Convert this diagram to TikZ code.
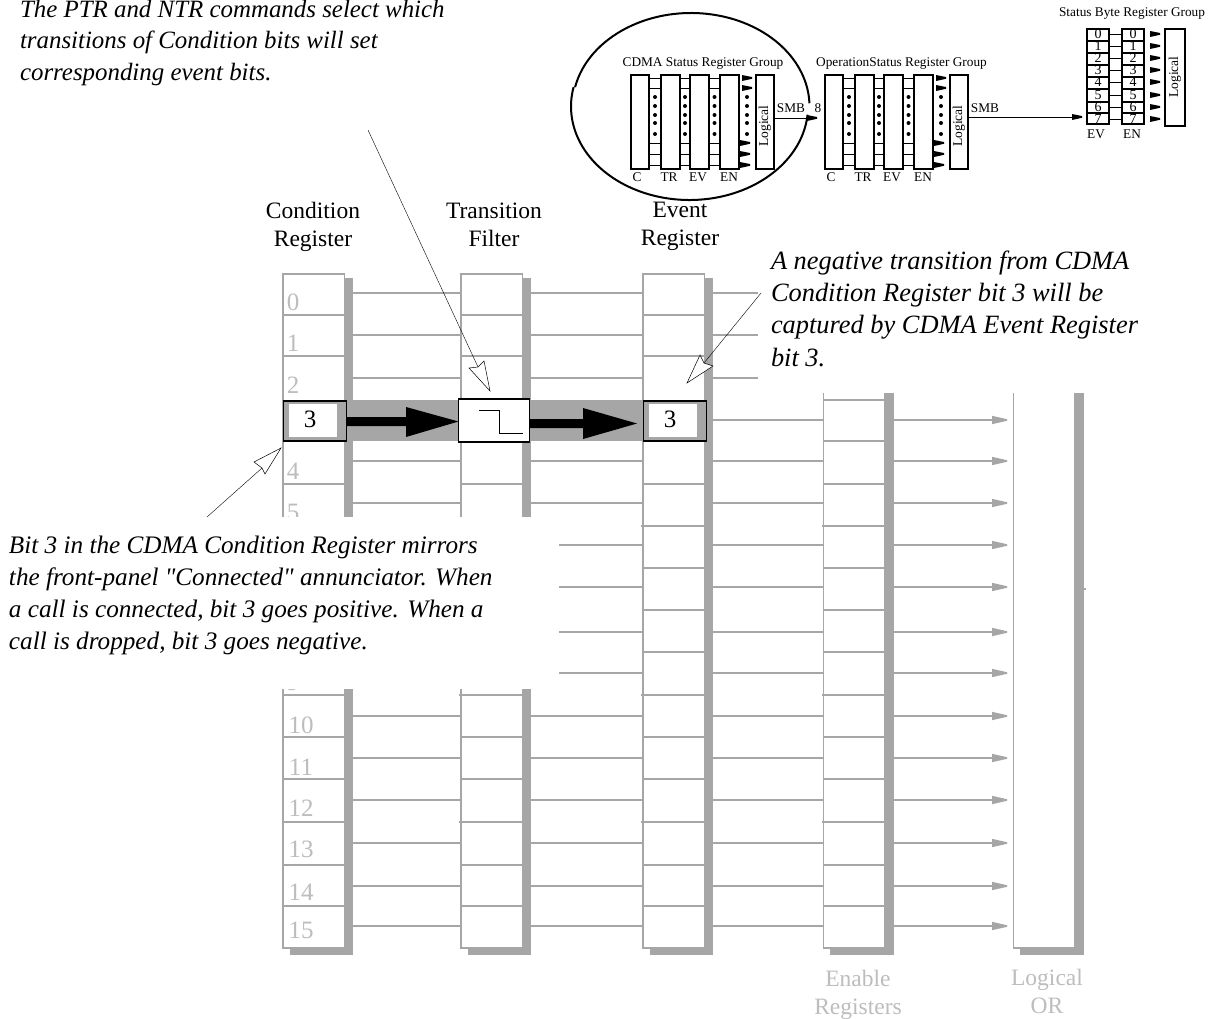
\documentclass[tikz,border=0pt]{standalone}
\usepackage{fontspec}
\setmainfont{Liberation Serif}
\newfontfamily\plainserif{Liberation Serif}
\usetikzlibrary{calc}
\definecolor{gshadow}{HTML}{A6A6A6}
\definecolor{gline}{HTML}{A6A6A6}
\definecolor{gtext}{HTML}{BDBDBD}
\tikzset{
  regbody/.style={draw=gline,line width=1.5pt,fill=white,inner sep=0pt,outer sep=0pt,rectangle},
  rowline/.style={draw=gline,line width=1.5pt},
  graytip/.style={fill=gline,draw=none},
  hollow/.style={draw=black,fill=white,line width=0.5pt,line join=miter},
  leader/.style={draw=black,line width=0.4pt},
  note/.style={font=\fontsize{24.9}{31.7}\plainserif\itshape,align=left,anchor=north west,inner sep=0pt,outer sep=0pt},
  head/.style={font=\fontsize{23.5}{28}\selectfont,align=center,inner sep=0pt,outer sep=0pt},
  bitnum/.style={font=\fontsize{25}{25}\selectfont,text=gtext,inner sep=0pt,outer sep=0pt},
  bitthree/.style={font=\fontsize{25}{25}\selectfont,text=black,inner sep=0pt,outer sep=0pt},
  mini/.style={draw=black,line width=2.6pt,fill=white,inner sep=0pt,outer sep=0pt,rectangle},
  minitxt/.style={font=\fontsize{13.3}{13.3}\selectfont,inner sep=0pt,outer sep=0pt},
  minidig/.style={font=\fontsize{14}{14}\selectfont,inner sep=0pt,outer sep=0pt},
  minirot/.style={font=\fontsize{13.5}{13.5}\selectfont,inner sep=0pt,outer sep=0pt,rotate=90},
  miniline/.style={draw=black,line width=0.7pt},
}
% name, x1, y1, x2, y2 : a register column with its drop shadow
\newcommand{\regcol}[5]{%
  \fill[gshadow] ({#4-1},{#3+4}) rectangle ({#4+8.5},{#5+6.5});
  \fill[gshadow] ({#2+7},{#5-1}) rectangle ({#4+5},{#5+7});
  \pgfmathsetmacro{\rw}{#4-#2}\pgfmathsetmacro{\rh}{#5-#3}
  \node[regbody,minimum width=\rw pt,minimum height=\rh pt] (#1) at ({(#2+#4)/2},{(#3+#5)/2}) {};
}
% name, x1, y1, x2, y2 : a small black-outlined box
\newcommand{\minibox}[5]{%
  \pgfmathsetmacro{\rw}{#4-#2}\pgfmathsetmacro{\rh}{#5-#3}
  \node[mini,minimum width=\rw pt,minimum height=\rh pt] (#1) at ({(#2+#4)/2},{(#3+#5)/2}) {};
}
% solid pointed head: tip x, y
\newcommand{\minitip}[2]{\fill[black] ({#1-10},{#2-3}) -- (#1,{#2-1}) -- (#1,{#2+0.8}) -- ({#1-10},{#2+3}) -- cycle;}
\begin{document}
\begin{tikzpicture}[x=1pt,y=-1pt]
\useasboundingbox (0,0) rectangle (1209,1018);
\fill[white] (0,0) rectangle (1209,1018);

% row coordinates
\foreach \i/\y in {0/293,1/335,2/378,3/420,4/461,5/503,6/545,7/587,8/632,9/673,10/716,11/758,12/800,13/843,14/886,15/926}
  \coordinate (row\i) at (0,\y);

% columns
\regcol{cond}{283}{274}{344.5}{948}
\regcol{filt}{461}{274}{522.5}{948}
\regcol{evnt}{643}{274}{704.5}{948}

% open-topped columns
\fill[gshadow] (884,393) rectangle (893.5,954.5);
\fill[gshadow] (830,947) rectangle (889,955);
\fill[gshadow] (1074,393) rectangle (1083.5,954.5);
\fill[gshadow] (1020,947) rectangle (1079,955);
\fill[gshadow] (1083,588) rectangle (1085.5,590);
\coordinate (enTL) at (823.5,393);
\coordinate (enBL) at (823.5,948);
\coordinate (enBR) at (885,948);
\coordinate (orTL) at (1013.5,393);
\coordinate (orBL) at (1013.5,948);
\coordinate (orBR) at (1075,948);
\draw[rowline] (enTL) -- (enBL) -- (enBR);
\draw[draw=gline,line width=1.1pt] (orTL) -- (orBL) -- (orBR);

% cell separators
\foreach \y in {315,356,484,526,568,610,652,695,737,779,822,865,906}{
  \draw[rowline] (283,\y) -- (344,\y);
  \draw[rowline] (461,\y) -- (521.5,\y);
  \draw[rowline] (643,\y) -- (703.5,\y);
}
\foreach \y in {400,441,484,526,568,610,652,695,737,779,822,865,906}
  \draw[rowline] (823,\y) -- (884,\y);
\foreach \y in {526,695,822}{
  \draw[rowline] (459,\y) -- (462,\y);
  \draw[rowline] (641,\y) -- (644,\y);
  \draw[rowline] (822,\y) -- (824,\y);
}

% row connectors
\foreach \i in {0,1,2,4,5,6,7,8,9,10,11,12,13,14,15}{
  \draw[rowline] (353,0 |- row\i) -- (filt.west |- row\i);
  \draw[rowline] (529,0 |- row\i) -- (evnt.west |- row\i);
}
\foreach \i in {3,4,5,6,7,8,9,10,11,12,13,14,15}{
  \draw[rowline] (713,0 |- row\i) -- (enTL |- row\i);
  \draw[rowline] (893,0 |- row\i) -- (995,0 |- row\i);
  \fill[graytip] (992,0 |- row\i) ++(0,-4.2) -- ++(15,3.4) -- ++(0,1.6) -- ++(-15,3.4) -- cycle;
}
\foreach \i in {0,1,2}
  \draw[rowline] (713,0 |- row\i) -- (758,0 |- row\i);

% bit numbers
\foreach \n/\y in {0/302,1/343,2/385,4/471,5/512,9/682}
  \node[bitnum] (bit\n) at (293,\y) {\n};
\foreach \n/\y in {10/725,11/767,12/808,13/849,14/892,15/930}
  \node[bitnum] (bit\n) at (301,\y) {\n};

% masks left by the callout texts
\fill[white] (0,517) rectangle (559,689);

% highlighted row 3
\fill[gshadow] (344,400) rectangle (643,441);
\fill[gshadow] (283,401) rectangle (346,441);
\fill[gshadow] (643,401) rectangle (713,441);
\fill[white] (289,404) rectangle (337,437);
\fill[white] (649,404) rectangle (697,437);
\node[draw=black,line width=1.4pt,fill=none,inner sep=0,outer sep=0,minimum width=63pt,minimum height=40pt] (cbox) at (315,421) {};
\node[draw=black,line width=1.4pt,fill=white,inner sep=0,outer sep=0,minimum width=71pt,minimum height=43pt] (tbox) at (494,420.5) {};
\node[draw=black,line width=1.4pt,fill=none,inner sep=0,outer sep=0,minimum width=63pt,minimum height=40pt] (ebox) at (675,421) {};
\node[bitthree] (cthree) at (310,419.5) {3};
\node[bitthree] (ethree) at (670,419.5) {3};
\draw[line width=0.9pt] (479,410) -- (499,410) -- (499,433.5) -- (523,433.5);
% heavy arrows
\fill[black] (cbox.east |- 0,417) -- (406,417) -- (406,407) -- (tbox.west |- 0,421.5) -- (406,437) -- (406,426) -- (cbox.east |- 0,426) -- cycle;
\fill[black] (tbox.east |- 0,419) -- (583,419) -- (583,408) -- (637,423.5) -- (583,439) -- (583,428) -- (tbox.east |- 0,428) -- cycle;

% callout leaders
\coordinate (la1) at (368,130);
\coordinate (ln1) at (478,367);
\coordinate (la2) at (761,293);
\coordinate (ln2) at (704,363);
\coordinate (la3) at (207,517);
\coordinate (ln3) at (262,468);
\draw[leader] (la1) -- (ln1);
\draw[hollow] (ln1) -- (469,368) -- (490,391) -- (484,361) -- cycle;
\draw[leader] (la2) -- (ln2);
\draw[hollow] (ln2) -- (700,355) -- (687,383) -- (713,366) -- cycle;
\draw[leader] (la3) -- (ln3);
\draw[hollow] (ln3) -- (254,462) -- (281,448) -- (265,474) -- cycle;

% column headings
\node[head] (hcond) at (313,227) {Condition\\Register};
\node[head] (hfilt) at (494,225) {Transition\\Filter};
\node[head] (hevnt) at (680,226) {Event\\Register};
\node[head] (hen) at (858,995) {\textcolor{gtext}{Enable}\\\textcolor{gtext}{Registers}};
\node[head] (hor) at (1047,991) {\textcolor{gtext}{Logical}\\\textcolor{gtext}{OR}};

% notes
\node[note] (n1) at (20,0) {The PTR and NTR commands select which\\transitions of Condition bits will set\\corresponding event bits.};
\node[note,font=\fontsize{26.4}{32.2}\plainserif\itshape] (n2) at (771,251) {A negative transition from CDMA\\Condition Register bit 3 will be\\captured by CDMA Event Register\\bit 3.};
\node[note,font=\fontsize{25.2}{32}\plainserif\itshape] (n3) at (9,536.5) {Bit 3 in the CDMA Condition Register mirrors\\the front-panel "Connected" annunciator. When\\a call is connected, bit 3 goes positive. When a\\call is dropped, bit 3 goes negative.};

% ===== overview: ring round the CDMA group =====
\draw[black,line width=2pt] (689.5,106.5) ++(5:118.5 and 93.5) arc[start angle=5,end angle=192,x radius=118.5,y radius=93.5];
\draw[black,line width=2pt] (691,106.5) ++(192:118.5 and 93.5) arc[start angle=192,end angle=358,x radius=118.5,y radius=93.5];

% ===== overview: CDMA and Operation groups =====
\foreach \g/\ox/\ttx/\ttl in {a/0/703/CDMA Status Register Group,b/194/707.5/OperationStatus Register Group}{
  \begin{scope}[shift={(\ox,0)}]
    \minibox{\g c}{631}{75}{649}{169}
    \minibox{\g t}{661}{75}{680}{169}
    \minibox{\g v}{690}{75}{709}{169}
    \minibox{\g n}{720}{75}{739}{169}
    \minibox{\g l}{756}{75}{774}{169}
    \foreach \y in {78,88,143,154,165}{
      \draw[miniline] (\g c.east |- 0,\y) -- (\g t.west |- 0,\y);
      \draw[miniline] (\g t.east |- 0,\y) -- (\g v.west |- 0,\y);
      \draw[miniline] (\g v.east |- 0,\y) -- (\g n.west |- 0,\y);
    }
    \foreach \x in {655,685,714.5,747}
      \foreach \y in {97,106,115,123,134}
        \fill[black] (\x,\y) circle[radius=2];
    \minitip{752}{78}\minitip{752}{88}
    \minitip{750}{143}\minitip{750}{154}\minitip{750}{165}
    \node[minitxt] (\g tc) at (637,177) {C};
    \node[minitxt] (\g tt) at (669,177) {TR};
    \node[minitxt] (\g tv) at (698,177) {EV};
    \node[minitxt] (\g tn) at (729,177) {EN};
    \node[minirot] (\g tl) at (765,126) {Logical};
    \node[minitxt] (\g smb) at (791,108) {SMB};
    \node[minitxt] (\g ttl) at (\ttx,63.5) {\ttl};
  \end{scope}
}
\node[minitxt] (eight) at (818,108) {8};
\coordinate (smbA) at (808,118);
\draw[miniline] (al.east |- smbA) -- (smbA);
\minitip{817}{118}

% ===== overview: Status Byte group =====
\node[minitxt] (sbt) at (1132,14) {Status Byte Register Group};
\minibox{sv}{1087}{29}{1109}{124}
\minibox{sn}{1122}{29}{1144}{124}
\minibox{sl}{1165}{29}{1185}{126}
\foreach \d/\y in {0/34,1/46,2/58,3/70,4/82,5/95,6/107,7/119}{
  \node[minidig] (sv\d) at (sv.center |- 0,\y) {\d};
  \node[minidig] (sn\d) at (sn.center |- 0,\y) {\d};
  \draw[miniline] (sv.east |- sv\d) -- (sn.west |- sn\d);
  \minitip{1160}{\y}
}
\foreach \y in {41,53,65,77,89,102,113}{
  \draw[black,line width=2.4pt] (sv.west |- 0,\y) -- (sv.east |- 0,\y);
  \draw[black,line width=2.4pt] (sn.west |- 0,\y) -- (sn.east |- 0,\y);
}
\node[minitxt] (sevt) at (1096,134) {EV};
\node[minitxt] (sent) at (1132,134) {EN};
\node[minirot] (slt) at (1175,77) {Logical};
\coordinate (smbB) at (1075,117);
\draw[miniline] (bl.east |- smbB) -- (smbB);
\minitip{1082}{117}
\end{tikzpicture}
\end{document}
